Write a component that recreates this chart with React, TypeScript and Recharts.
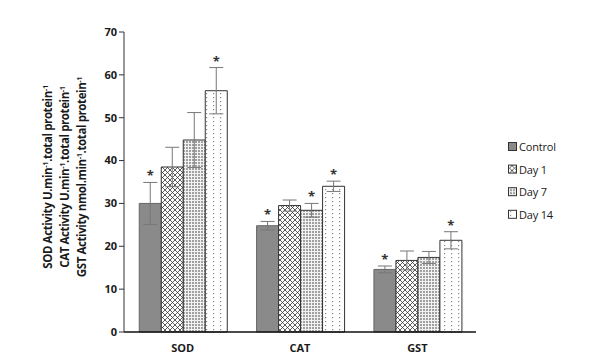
import React from 'react';
import { BarChart, Bar, XAxis, YAxis, ErrorBar, LabelList, Label } from 'recharts';

const categories = ['SOD', 'CAT', 'GST'];
const control = [30.0, 24.8, 14.6];
const controlErr = [4.9, 1.0, 0.8];
const day1 = [38.5, 29.5, 16.7];
const day1Err = [4.6, 1.3, 2.2];
const day7 = [44.8, 28.4, 17.4];
const day7Err = [6.4, 1.6, 1.4];
const day14 = [56.3, 34.0, 21.4];
const day14Err = [5.4, 1.2, 2.0];
const controlSig = [true, true, true];
const day1Sig = [false, false, false];
const day7Sig = [false, true, false];
const day14Sig = [true, true, true];
const yTicks = [0, 10, 20, 30, 40, 50, 60, 70];

const data = categories.map((c, i) => ({
  name: c,
  control: control[i], controlErr: controlErr[i],
  day1: day1[i], day1Err: day1Err[i],
  day7: day7[i], day7Err: day7Err[i],
  day14: day14[i], day14Err: day14Err[i],
}));

const FONT = '"Open Sans", "Liberation Sans", sans-serif';

const makeStar = (errArr: number[], sigArr: boolean[]) => (props: any) => {
  const { x, y, width, height, value, index } = props;
  if (!sigArr[index]) return null;
  const pxPerUnit = height / value;
  const topY = y - errArr[index] * pxPerUnit;
  return (
    <text x={x + width / 2} y={topY - 2} textAnchor="middle" fontSize={13} fontWeight="bold" fontFamily={FONT} fill="#333">*</text>
  );
};

const YLabel = () => {
  const cy = 177;
  const lines = [
    { x: 52, parts: ['SOD Activity U.min', '.total protein'] },
    { x: 69, parts: ['CAT Activity U.min', '.total protein'] },
    { x: 86, parts: ['GST Activity nmol.min', '.total protein'] },
  ];
  return (
    <g>
      {lines.map((l, i) => (
        <text key={i} x={l.x} y={cy} transform={`rotate(-90 ${l.x} ${cy})`} textAnchor="middle" fontSize={11.5} fontWeight="bold" fontFamily={FONT} fill="#1a1a1a" letterSpacing={-0.4}>
          {l.parts[0]}
          <tspan fontSize={7.5} dy={-4}>-1</tspan>
          <tspan dy={4}>{l.parts[1]}</tspan>
          <tspan fontSize={7.5} dy={-4}>-1</tspan>
        </text>
      ))}
    </g>
  );
};

const legendItems = [
  { label: 'Control', fill: '#8a8a8a' },
  { label: 'Day 1', fill: 'url(#pDay1)' },
  { label: 'Day 7', fill: 'url(#pDay7)' },
  { label: 'Day 14', fill: 'url(#pDay14)' },
];

const LegendBox = () => (
  <svg width={80} height={95} style={{ position: 'absolute', left: 507, top: 138 }}>
    {legendItems.map((it, i) => (
      <g key={i} transform={`translate(0, ${i * 22.6})`}>
        <rect x={1.5} y={4.5} width={8} height={8} fill={it.fill} stroke="#333" strokeWidth={1} />
        <text x={12} y={13} fontSize={11} fontFamily={FONT} fill="#1a1a1a" letterSpacing={-0.2}>{it.label}</text>
      </g>
    ))}
  </svg>
);

export default function App() {
  return (
    <div style={{ width: 589, height: 363, position: 'relative' }}>
      <style>{`body{margin:0;}`}</style>
      <BarChart width={589} height={363} data={data} margin={{ top: 32, right: 113, bottom: 0, left: 0 }} barCategoryGap="13%" barGap={0}>
        <defs>
          <pattern id="pDay1" width="5" height="5" patternUnits="userSpaceOnUse">
            <rect width="5" height="5" fill="#fff" />
            <path d="M0,0 L5,5 M5,0 L0,5" stroke="#333" strokeWidth="0.8" />
          </pattern>
          <pattern id="pDay7" width="3" height="3" patternUnits="userSpaceOnUse">
            <rect width="3" height="3" fill="#f2f2f2" />
            <rect x="0" y="0" width="2" height="2" fill="#a0a0a0" />
          </pattern>
          <pattern id="pDay14" width="7" height="4" patternUnits="userSpaceOnUse">
            <rect width="7" height="4" fill="#fff" />
            <rect x="3" y="1" width="1.2" height="1.2" fill="#888" />
          </pattern>
        </defs>
        <XAxis dataKey="name" height={31} axisLine={{ stroke: '#111', strokeWidth: 1.3 }} tickLine={false}
          tick={{ fontSize: 11, fontWeight: 'bold', fontFamily: FONT, fill: '#1a1a1a' }} tickMargin={6} />
        <YAxis width={124} domain={[0, 70]} ticks={yTicks} interval={0}
          axisLine={{ stroke: '#333' }} tickLine={{ stroke: '#333' }} tickSize={5}
          tick={{ fontSize: 11, fontWeight: 'bold', fontFamily: FONT, fill: '#1a1a1a' }}>
          <Label content={<YLabel />} />
        </YAxis>
        <Bar dataKey="control" fill="#8a8a8a" stroke="#666" strokeWidth={1} isAnimationActive={false}>
          <ErrorBar dataKey="controlErr" width={7} stroke="#777" strokeWidth={1} />
          <LabelList dataKey="control" content={makeStar(controlErr, controlSig)} />
        </Bar>
        <Bar dataKey="day1" fill="url(#pDay1)" stroke="#333" strokeWidth={1} isAnimationActive={false}>
          <ErrorBar dataKey="day1Err" width={7} stroke="#777" strokeWidth={1} />
          <LabelList dataKey="day1" content={makeStar(day1Err, day1Sig)} />
        </Bar>
        <Bar dataKey="day7" fill="url(#pDay7)" stroke="#333" strokeWidth={1} isAnimationActive={false}>
          <ErrorBar dataKey="day7Err" width={7} stroke="#777" strokeWidth={1} />
          <LabelList dataKey="day7" content={makeStar(day7Err, day7Sig)} />
        </Bar>
        <Bar dataKey="day14" fill="url(#pDay14)" stroke="#333" strokeWidth={1} isAnimationActive={false}>
          <ErrorBar dataKey="day14Err" width={7} stroke="#777" strokeWidth={1} />
          <LabelList dataKey="day14" content={makeStar(day14Err, day14Sig)} />
        </Bar>
      </BarChart>
      <LegendBox />
    </div>
  );
}
